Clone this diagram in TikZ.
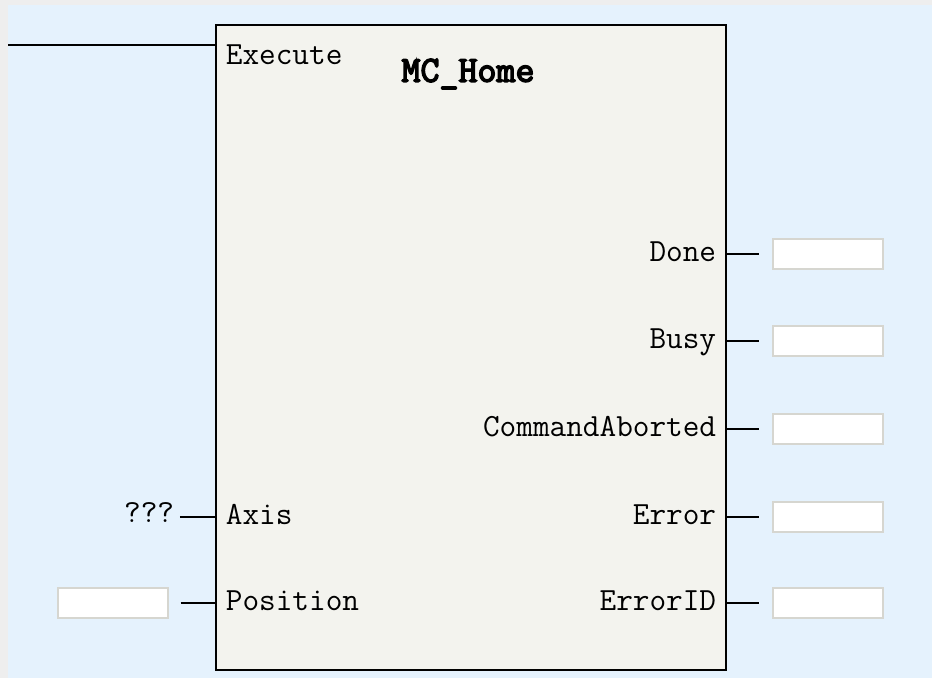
\documentclass[tikz,border=0pt]{standalone}
\usepackage{fontspec}
\usepackage{tikz}
\usetikzlibrary{positioning, calc}
\setmonofont{Latin Modern Mono}
\newfontfamily\titlefont{Latin Modern Mono}[FakeBold=4]
\definecolor{panelblue}{RGB}{229,242,253}
\definecolor{framegray}{RGB}{238,238,238}
\definecolor{blockfill}{RGB}{243,243,238}
\definecolor{boxedge}{RGB}{214,214,208}

\begin{document}
\begin{tikzpicture}[
    x=0.02cm, y=-0.02cm,
    fblock/.style={draw, line width=1.2pt, fill=blockfill, minimum width=10.2cm,
                   minimum height=12.9cm, inner sep=0pt},
    pinl/.style={font=\ttfamily\fontsize{18.4}{20}\selectfont, inner sep=2pt,
                 text height=0.62em, text depth=0.02em, yshift=-0.05cm},
    varbox/.style={draw=boxedge, line width=0.8pt, fill=white,
                   minimum width=2.2cm, minimum height=0.6cm, inner sep=0pt},
    wire/.style={line width=1.1pt},
]
\useasboundingbox (0,0) rectangle (932,678);
\fill[framegray] (0,0) rectangle (932,678);
\fill[panelblue] (8,5) rectangle (932,678);

% function block
\node[fblock] (fb) at (471,347.5) {};
\node[font=\titlefont\fontsize{21}{23}\selectfont] (title) at (468,74) {MC\_Home};

% inputs
\coordinate (rail) at (8,45);
\node[pinl, anchor=west] (exe) at (222,57) {Execute};
\node[pinl, anchor=west] (axis) at (222,517) {Axis};
\node[pinl, anchor=west] (pos) at (222,603) {Position};
\node[pinl, anchor=east, yshift=0.05cm] (qq) at (178,517) {???};
\node[varbox] (posv) at (113,603) {};
\draw[wire] (rail) -- (rail -| fb.west);
\draw[wire, shorten <=1pt] (qq) -- (qq -| fb.west);
\draw[wire, shorten <=0.24cm] (posv) -- (posv -| fb.west);

% outputs
\node[pinl, anchor=east] (done) at (720,254) {Done};
\node[pinl, anchor=east] (busy) at (720,341) {Busy};
\node[pinl, anchor=east] (abort) at (720,429) {CommandAborted};
\node[pinl, anchor=east] (err) at (720,517) {Error};
\node[pinl, anchor=east] (errid) at (720,603) {ErrorID};
\node[varbox] (donev) at (828,254) {};
\node[varbox] (busyv) at (828,341) {};
\node[varbox] (abortv) at (828,429) {};
\node[varbox] (errv) at (828,517) {};
\node[varbox] (erridv) at (828,603) {};
\draw[wire, shorten >=0.26cm] (donev -| fb.east) -- (donev);
\draw[wire, shorten >=0.26cm] (busyv -| fb.east) -- (busyv);
\draw[wire, shorten >=0.26cm] (abortv -| fb.east) -- (abortv);
\draw[wire, shorten >=0.26cm] (errv -| fb.east) -- (errv);
\draw[wire, shorten >=0.26cm] (erridv -| fb.east) -- (erridv);
\end{tikzpicture}
\end{document}
